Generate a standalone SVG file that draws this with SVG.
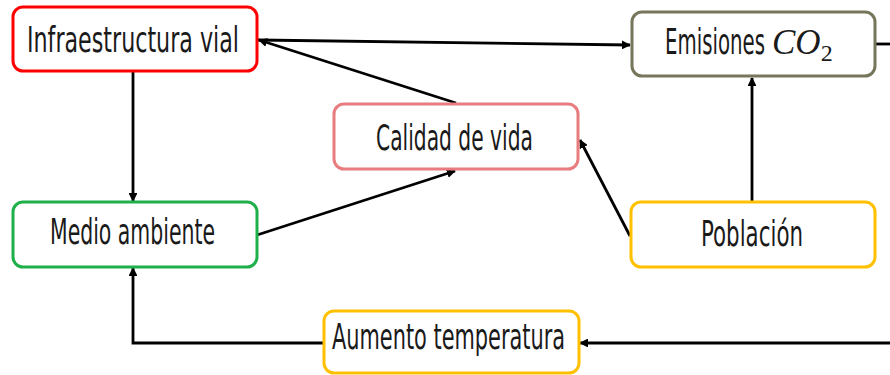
<svg xmlns="http://www.w3.org/2000/svg" width="890" height="375" viewBox="0 0 890 375">
<style>
.box{fill:#fff;stroke-width:3}
.lbl{font-family:"Liberation Sans Narrow","DejaVu Sans Condensed","Liberation Sans",sans-serif;font-size:36px;fill:#1a1a1a}
.math{font-family:"Liberation Serif","DejaVu Serif",serif;fill:#1a1a1a}
.con{fill:none;stroke:#000;stroke-width:2.8}
</style>
<defs>
<marker id="ah" viewBox="0 0 10 10" refX="9" refY="5" markerWidth="3.2" markerHeight="3.2" orient="auto" markerUnits="strokeWidth">
<path d="M0,0 L10,5 L0,10 Z" fill="#000"/>
</marker>
</defs>
<g id="connectors">
<line class="con" x1="258" y1="40" x2="630" y2="45" marker-end="url(#ah)"/>
<line class="con" x1="456" y1="103" x2="259" y2="40" marker-end="url(#ah)"/>
<line class="con" x1="876" y1="44" x2="890" y2="44"/>
<line class="con" x1="133" y1="72" x2="133" y2="201" marker-end="url(#ah)"/>
<line class="con" x1="257" y1="235" x2="455" y2="171" marker-end="url(#ah)"/>
<line class="con" x1="752" y1="202" x2="752" y2="78" marker-end="url(#ah)"/>
<line class="con" x1="630" y1="236" x2="580" y2="140" marker-end="url(#ah)"/>
<line class="con" x1="890" y1="343" x2="580" y2="343" marker-end="url(#ah)"/>
<polyline class="con" points="323,343 133,343 133,268" marker-end="url(#ah)"/>
</g>
<g id="infraestructura">
<rect class="box" x="13" y="7" width="244" height="64" rx="10" stroke="#ff0000"/>
<text class="lbl" x="27" y="52" textLength="212" lengthAdjust="spacingAndGlyphs">Infraestructura vial</text>
</g>
<g id="emisiones">
<rect class="box" x="632" y="12" width="243" height="64" rx="10" stroke="#76765a"/>
<text class="lbl" transform="translate(665,54) scale(0.61,1)" x="0" y="0">Emisiones</text>
<text class="math" x="772" y="54" font-size="35" font-style="italic">CO<tspan font-style="normal" font-size="24" dy="7">2</tspan></text>
</g>
<g id="calidad">
<rect class="box" x="334" y="104" width="244" height="65" rx="10" stroke="#e87c7f"/>
<text class="lbl" x="376" y="150" textLength="157" lengthAdjust="spacingAndGlyphs">Calidad de vida</text>
</g>
<g id="medio">
<rect class="box" x="13" y="202" width="244" height="65" rx="10" stroke="#1fb04a"/>
<text class="lbl" x="50" y="244" textLength="165" lengthAdjust="spacingAndGlyphs">Medio ambiente</text>
</g>
<g id="poblacion">
<rect class="box" x="631" y="202" width="244" height="65" rx="10" stroke="#ffc000"/>
<text class="lbl" x="701" y="246" textLength="102" lengthAdjust="spacingAndGlyphs">Población</text>
</g>
<g id="aumento">
<rect class="box" x="324" y="311" width="255" height="62" rx="10" stroke="#ffc000"/>
<text class="lbl" x="332" y="349" textLength="233" lengthAdjust="spacingAndGlyphs">Aumento temperatura</text>
</g>
</svg>
